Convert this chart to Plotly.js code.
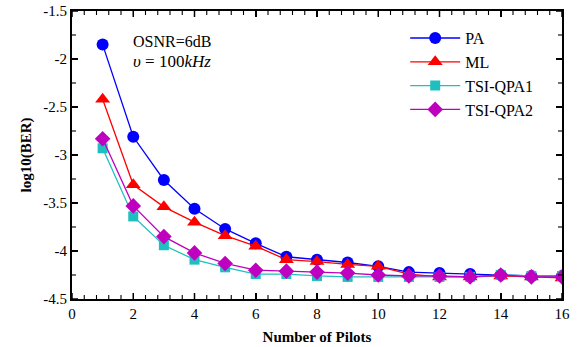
<!DOCTYPE html>
<html>
<head>
<meta charset="utf-8">
<script src="https://cdn.plot.ly/plotly-3.0.1.min.js"></script>
<style>html,body{margin:0;padding:0;background:#fff;}#chart{width:587px;height:347px;}</style>
</head>
<body>
<div id="chart"></div>
<script>
const pilots = [1,2,3,4,5,6,7,8,9,10,11,12,13,14,15,16];
const PA      = [-1.85,-2.81,-3.26,-3.56,-3.77,-3.92,-4.06,-4.09,-4.12,-4.16,-4.22,-4.23,-4.24,-4.25,-4.26,-4.26];
const ML      = [-2.42,-3.31,-3.54,-3.70,-3.84,-3.95,-4.09,-4.11,-4.14,-4.16,-4.24,-4.27,-4.27,-4.26,-4.27,-4.28];
const TSIQPA1 = [-2.93,-3.64,-3.94,-4.09,-4.17,-4.24,-4.24,-4.26,-4.27,-4.27,-4.27,-4.27,-4.27,-4.25,-4.26,-4.26];
const TSIQPA2 = [-2.83,-3.53,-3.85,-4.02,-4.13,-4.20,-4.21,-4.22,-4.23,-4.25,-4.26,-4.26,-4.27,-4.25,-4.27,-4.27];
const seriesNames = ['PA','ML','TSI-QPA1','TSI-QPA2'];
const xTickVals = [0,2,4,6,8,10,12,14,16];
const xTickText = ['0','2','4','6','8','10','12','14','16'];
const yTickVals = [-4.5,-4,-3.5,-3,-2.5,-2,-1.5];
const yTickText = ['-4.5','-4','-3.5','-3','-2.5','-2','-1.5'];
const annText1 = 'OSNR=6dB';
const annText2 = '<i>υ</i> = 100<i>kHz</i>';

const serif = "Liberation Serif";
function tr(y, name, color, symbol, size) {
  return {x: pilots, y: y, name: name, type: 'scatter', mode: 'lines+markers',
    line: {color: color, width: 1.3},
    marker: {color: color, symbol: symbol, size: size, line: {width: 0}}};
}
const data = [
  tr(PA, seriesNames[0], '#0000ff', 'circle', 12),
  tr(ML, seriesNames[1], '#ff0000', 'triangle-up', 13),
  tr(TSIQPA1, seriesNames[2], '#1fbfbf', 'square', 10),
  tr(TSIQPA2, seriesNames[3], '#bf00bf', 'diamond', 12)
];

// Tick marks on all four sides (inside), built from the axis tick settings
const shapes = [];
function tickLine(opts, w) {
  return Object.assign({type: 'line', layer: 'above', line: {color: '#000', width: w}}, opts);
}
const xMinorStep = 0.4, yMinorStep = 0.25;
for (let i = 0; i <= Math.round(16 / xMinorStep); i++) {
  const v = +(i * xMinorStep).toFixed(4);
  const major = (i % 5 === 0);
  const len = major ? 6 : 4, w = major ? 1.5 : 1.1;
  shapes.push(tickLine({xref: 'x', yref: 'y domain', ysizemode: 'pixel', yanchor: 0, x0: v, x1: v, y0: 0, y1: len}, w));
  shapes.push(tickLine({xref: 'x', yref: 'y domain', ysizemode: 'pixel', yanchor: 1, x0: v, x1: v, y0: 0, y1: -len}, w));
}
for (let i = 0; i <= Math.round(3 / yMinorStep); i++) {
  const v = +(-4.5 + i * yMinorStep).toFixed(4);
  const major = (i % 2 === 0);
  const len = major ? 6 : 4, w = major ? 1.5 : 1.1;
  shapes.push(tickLine({xref: 'x domain', yref: 'y', xsizemode: 'pixel', xanchor: 0, x0: 0, x1: len, y0: v, y1: v}, w));
  shapes.push(tickLine({xref: 'x domain', yref: 'y', xsizemode: 'pixel', xanchor: 1, x0: 0, x1: -len, y0: v, y1: v}, w));
}

const tickFont = {family: serif, size: 15, color: '#000'};
const axisCommon = {
  showgrid: false, zeroline: false, showline: true, linecolor: '#000', linewidth: 2,
  mirror: 'allticks', ticks: 'inside', ticklen: 6, tickwidth: 1.5, tickcolor: '#000', tickfont: tickFont
};
const layout = {
  width: 587, height: 347,
  margin: {l: 72, r: 25, t: 11, b: 48},
  paper_bgcolor: '#fff', plot_bgcolor: '#fff',
  font: {family: serif, color: '#000'},
  xaxis: Object.assign({}, axisCommon, {
    range: [0, 16], tickmode: 'array', tickvals: xTickVals, ticktext: xTickText,
    title: {text: '<b>Number of Pilots</b>', font: {family: serif, size: 15, color: '#000'}, standoff: 10}
  }),
  yaxis: Object.assign({}, axisCommon, {
    range: [-4.5, -1.5], tickmode: 'array', tickvals: yTickVals, ticktext: yTickText,
    title: {text: '<b>log10(BER)</b>', font: {family: serif, size: 15, color: '#000'}, standoff: 8}
  }),
  shapes: shapes,
  legend: {x: 0.68, y: 0.965, xanchor: 'left', yanchor: 'top', bgcolor: 'rgba(0,0,0,0)',
    borderwidth: 0, font: {family: serif, size: 16, color: '#000'}, tracegroupgap: 0, itemwidth: 50},
  annotations: [
    {xref: 'x', yref: 'y', x: 1.93, y: -1.82, text: annText1, showarrow: false, xanchor: 'left',
      font: {family: serif, size: 16, color: '#000'}},
    {xref: 'x', yref: 'y', x: 1.93, y: -2.03, text: annText2, showarrow: false, xanchor: 'left',
      font: {family: serif, size: 17, color: '#000'}}
  ],
  showlegend: true
};
Plotly.newPlot('chart', data, layout, {displayModeBar: false, staticPlot: true});
</script>
</body>
</html>
